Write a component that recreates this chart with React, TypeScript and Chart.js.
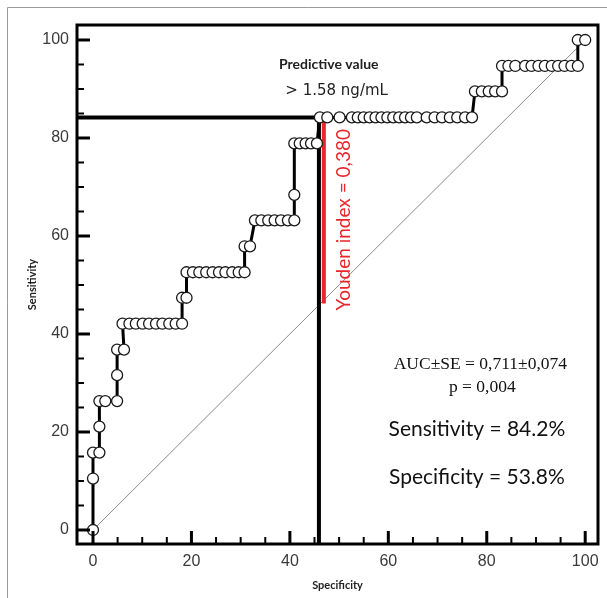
import { useEffect, useRef } from 'react';
import { Chart, registerables } from 'chart.js';

Chart.register(...registerables);

// Axis ranges (units of the axes)
const X_MIN = -3.25;
const X_MAX = 102.6;
const Y_MIN = -2.86;
const Y_MAX = 103.06;
const TICK_STEP = 5;
const LABEL_STEP = 20;

// ROC curve: x = 100 - specificity (%), y = sensitivity (%)
const rocX = [
  0, 0, 0, 1.3, 1.3, 1.3, 2.5, 4.9, 4.9, 4.9, 6.3,
  6.0, 7.4, 8.7, 10.1, 11.4, 12.8, 14.1, 15.5, 16.8, 18.1,
  18.1, 19.0,
  19.0, 20.3, 21.6, 23.0, 24.3, 25.6, 26.9, 28.3, 29.6, 30.8,
  30.8, 31.9,
  32.9, 34.2, 35.6, 36.9, 38.2, 39.6, 40.9,
  40.9,
  40.9, 42.0, 43.2, 44.3, 45.5,
  46.1, 47.6, 50.1, 52.6, 53.8, 55.0, 56.2, 57.4, 58.6, 59.8, 61.0, 62.2, 63.4, 64.6, 65.8,
  67.8, 69.4, 70.9, 72.5, 74.0, 75.6, 77.0,
  77.6, 79.0, 80.4, 81.7, 83.1,
  83.1, 84.4, 85.8, 87.8, 89.1, 90.5, 91.8, 93.2, 94.5, 95.8, 97.2, 98.5,
  98.5, 100,
];
const rocY = [
  0, 10.5, 15.8, 15.8, 21.1, 26.3, 26.3, 26.3, 31.6, 36.8, 36.8,
  42.1, 42.1, 42.1, 42.1, 42.1, 42.1, 42.1, 42.1, 42.1, 42.1,
  47.4, 47.4,
  52.6, 52.6, 52.6, 52.6, 52.6, 52.6, 52.6, 52.6, 52.6, 52.6,
  57.9, 57.9,
  63.2, 63.2, 63.2, 63.2, 63.2, 63.2, 63.2,
  68.4,
  78.9, 78.9, 78.9, 78.9, 78.9,
  84.2, 84.2, 84.2, 84.2, 84.2, 84.2, 84.2, 84.2, 84.2, 84.2, 84.2, 84.2, 84.2, 84.2, 84.2,
  84.2, 84.2, 84.2, 84.2, 84.2, 84.2, 84.2,
  89.5, 89.5, 89.5, 89.5, 89.5,
  94.7, 94.7, 94.7, 94.7, 94.7, 94.7, 94.7, 94.7, 94.7, 94.7, 94.7, 94.7,
  100, 100,
];

// Reference diagonal
const diagonalX = [0, 100];
const diagonalY = [0, 100];

// Optimal cut-off
const cutoffX = 45.9;
const cutoffSensitivity = 84.2;
const youdenIndex = 38.0;
const youdenLineX = 46.9;

// Texts
const predictiveTitle = 'Predictive value';
const predictiveValue = '> 1.58 ng/mL';
const youdenText = 'Youden index = 0,380';
const aucText = 'AUC\u00B1SE = 0,711\u00B10,074';
const pText = 'p = 0,004';
const sensText = 'Sensitivity = 84.2%';
const specText = 'Specificity = 53.8%';
const xTitle = 'Specificity';
const yTitle = 'Sensitivity';

const toPoints = (xs: number[], ys: number[]) => xs.map((x, i) => ({ x, y: ys[i] }));

const decorPlugin = {
  id: 'decor',
  beforeDraw(chart: any) {
    const { ctx } = chart;
    ctx.save();
    ctx.strokeStyle = '#9a9a9a';
    ctx.lineWidth = 1;
    ctx.beginPath();
    ctx.moveTo(7.5, chart.height);
    ctx.lineTo(7.5, 7.5);
    ctx.lineTo(chart.width, 7.5);
    ctx.stroke();
    ctx.restore();
  },
  afterDraw(chart: any) {
    const { ctx, chartArea: a, scales } = chart;
    const xs = scales.x;
    const ys = scales.y;
    ctx.save();
    // ticks (inward)
    ctx.strokeStyle = '#000';
    xs.ticks.forEach((t: any) => {
      const major = t.value % LABEL_STEP === 0;
      const len = major ? 13 : 7;
      ctx.lineWidth = major ? 3 : 2;
      const px = xs.getPixelForValue(t.value);
      ctx.beginPath();
      ctx.moveTo(px, a.bottom);
      ctx.lineTo(px, a.bottom - len);
      ctx.stroke();
    });
    ys.ticks.forEach((t: any) => {
      const major = t.value % LABEL_STEP === 0;
      const len = major ? 13 : 7;
      ctx.lineWidth = major ? 3 : 2;
      const py = ys.getPixelForValue(t.value);
      ctx.beginPath();
      ctx.moveTo(a.left, py);
      ctx.lineTo(a.left + len, py);
      ctx.stroke();
    });
    // frame
    ctx.lineWidth = 3;
    ctx.strokeRect(a.left, a.top, a.right - a.left, a.bottom - a.top);

    const text = (s: string, vx: number, vy: number, font: string, color: string, rot = 0) => {
      ctx.save();
      ctx.translate(xs.getPixelForValue(vx), ys.getPixelForValue(vy));
      ctx.rotate(rot);
      ctx.font = font;
      ctx.fillStyle = color;
      ctx.textAlign = 'center';
      ctx.textBaseline = 'middle';
      ctx.fillText(s, 0, 0);
      ctx.restore();
    };
    text(predictiveTitle, 47.9, 95.1, 'bold 14px Lato', '#222');
    text(predictiveValue, 49.5, 89.6, '15px "DejaVu Sans"', '#222');
    text(youdenText, 51.0, 63.3, '19px Lato', '#e8262b', -Math.PI / 2);
    text(aucText, 78.7, 33.7, '17.5px "Liberation Serif"', '#111');
    text(pText, 79.1, 29.0, '17.5px "Liberation Serif"', '#111');
    text(sensText, 78.0, 20.6, '21px Lato', '#111');
    text(specText, 78.0, 10.8, '21px Lato', '#111');
    ctx.restore();
  },
};

export default function App() {
  const ref = useRef<HTMLCanvasElement>(null);
  useEffect(() => {
    document.body.style.margin = '0';
    const chart = new Chart(ref.current as HTMLCanvasElement, {
      type: 'scatter',
      data: {
        datasets: [
          {
            label: 'ROC',
            data: toPoints(rocX, rocY),
            showLine: true,
            borderColor: '#000',
            borderWidth: 3,
            pointRadius: 5.5,
            pointBackgroundColor: '#fff',
            pointBorderColor: '#1a1a1a',
            pointBorderWidth: 1.3,
            order: 0,
          },
          {
            label: 'Youden',
            data: [
              { x: youdenLineX, y: cutoffSensitivity },
              { x: youdenLineX, y: cutoffSensitivity - youdenIndex },
            ],
            showLine: true,
            borderColor: '#e8262b',
            borderWidth: 4,
            pointRadius: 0,
            order: 1,
          },
          {
            label: 'Cutoff',
            data: [
              { x: X_MIN, y: cutoffSensitivity },
              { x: cutoffX, y: cutoffSensitivity },
              { x: cutoffX, y: Y_MIN },
            ],
            showLine: true,
            borderColor: '#000',
            borderWidth: 4,
            pointRadius: 0,
            order: 2,
          },
          {
            label: 'Diagonal',
            data: toPoints(diagonalX, diagonalY),
            showLine: true,
            borderColor: '#8a8a8a',
            borderWidth: 1,
            pointRadius: 0,
            order: 3,
          },
        ],
      },
      options: {
        animation: false,
        responsive: false,
        devicePixelRatio: 1,
        layout: { padding: { top: 25, right: 9, left: 0, bottom: 0 } },
        plugins: { legend: { display: false }, tooltip: { enabled: false } },
        scales: {
          x: {
            type: 'linear',
            min: X_MIN,
            max: X_MAX,
            grid: { display: false, drawTicks: false },
            border: { display: false },
            ticks: {
              stepSize: TICK_STEP,
              includeBounds: false,
              autoSkip: false,
              maxRotation: 0,
              padding: 8,
              color: '#3a3a3a',
              font: { family: '"Liberation Sans"', size: 16 },
              callback: (v: any) => (Number(v) % LABEL_STEP === 0 ? String(v) : ''),
            },
            title: {
              display: true,
              text: xTitle,
              color: '#222',
              font: { family: 'Lato', size: 11, weight: 'bold' },
              padding: { top: 0, bottom: 6 },
            },
            afterFit: (s: any) => {
              s.height = 54;
            },
          },
          y: {
            type: 'linear',
            min: Y_MIN,
            max: Y_MAX,
            grid: { display: false, drawTicks: false },
            border: { display: false },
            ticks: {
              stepSize: TICK_STEP,
              includeBounds: false,
              autoSkip: false,
              padding: 8,
              color: '#3a3a3a',
              font: { family: '"Liberation Sans"', size: 16 },
              callback: (v: any) => (Number(v) % LABEL_STEP === 0 ? String(v) : ''),
            },
            title: {
              display: true,
              text: yTitle,
              color: '#222',
              font: { family: 'Lato', size: 11, weight: 'bold' },
              padding: { top: 26, bottom: 0 },
            },
            afterFit: (s: any) => {
              s.width = 77;
            },
          },
        },
      },
      plugins: [decorPlugin],
    } as any);
    return () => chart.destroy();
  }, []);
  return (
    <div style={{ width: 607, height: 598 }}>
      <canvas ref={ref} width={607} height={598} style={{ display: 'block' }} />
    </div>
  );
}
